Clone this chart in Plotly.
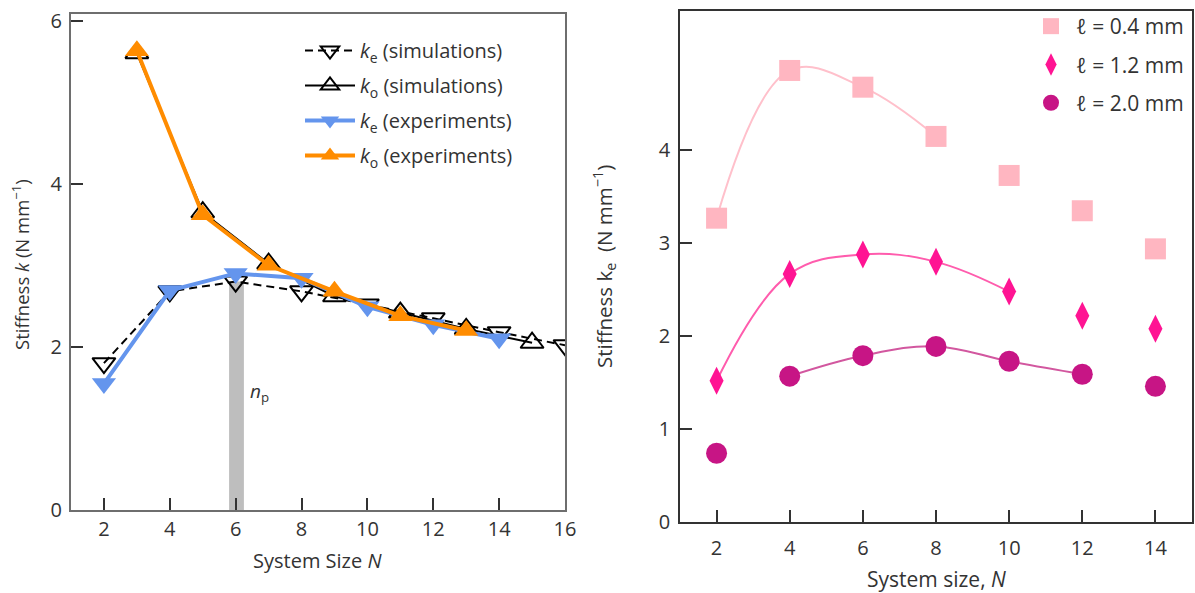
import plotly.graph_objects as go

# ---------------- data: left panel ----------------
N_even = [2, 4, 6, 8, 10, 12, 14, 16]
ke_sim = [1.80, 2.68, 2.80, 2.68, 2.52, 2.35, 2.18, 2.02]
N_odd = [3, 5, 7, 9, 11, 13, 15]
ko_sim = [5.60, 3.65, 3.02, 2.62, 2.42, 2.22, 2.05]
N_exp_e = [2, 4, 6, 8, 10, 12, 14]
ke_exp = [1.55, 2.69, 2.90, 2.84, 2.49, 2.27, 2.10]
N_exp_o = [3, 5, 7, 9, 11, 13]
ko_exp = [5.63, 3.62, 3.00, 2.68, 2.38, 2.20]
n_p = 6
left_xticks = [2, 4, 6, 8, 10, 12, 14, 16]
left_yticks = [0, 2, 4, 6]

# ---------------- data: right panel ----------------
N_r = [2, 4, 6, 8, 10, 12, 14]
k_l04 = [3.27, 4.86, 4.68, 4.15, 3.73, 3.35, 2.94]
k_l12 = [1.52, 2.67, 2.88, 2.80, 2.48, 2.22, 2.08]
k_l20 = [0.74, 1.57, 1.79, 1.89, 1.73, 1.59, 1.46]
fit_l04 = slice(0, 4)   # fitted curve spans N = 2..8
fit_l12 = slice(0, 5)   # N = 2..10
fit_l20 = slice(1, 6)   # N = 4..12
right_xticks = [2, 4, 6, 8, 10, 12, 14]
right_yticks = [0, 1, 2, 3, 4]

FONT = "Open Sans, Noto Sans, DejaVu Sans, sans-serif"
TXT = "#333333"
BLUE = "#6495ED"
ORANGE = "#FF8C00"
C04, C04L = "#FFB6C1", "#FFC0CB"
C12, C12L = "#FF1493", "#FF5CAD"
C20, C20L = "#C71585", "#D2579F"

fig = go.Figure()

# ---- left panel traces ----
fig.add_trace(go.Scatter(
    x=N_even, y=ke_sim, mode="lines+markers", name="<i>k</i><sub>e</sub> (simulations)",
    line=dict(color="black", width=2, dash="8px,5px"),
    marker=dict(symbol="triangle-down-open", size=20, color="black", line=dict(width=2)),
    xaxis="x", yaxis="y", legend="legend", legendgroup="a"))
fig.add_trace(go.Scatter(
    x=N_odd, y=ko_sim, mode="lines+markers", name="<i>k</i><sub>o</sub> (simulations)",
    line=dict(color="black", width=2),
    marker=dict(symbol="triangle-up-open", size=20, color="black", line=dict(width=2)),
    xaxis="x", yaxis="y", legend="legend", legendgroup="b"))
fig.add_trace(go.Scatter(
    x=N_exp_e, y=ke_exp, mode="lines+markers", name="<i>k</i><sub>e</sub> (experiments)",
    line=dict(color=BLUE, width=4),
    marker=dict(symbol="triangle-down", size=21, color=BLUE),
    xaxis="x", yaxis="y", legend="legend", legendgroup="c"))
fig.add_trace(go.Scatter(
    x=N_exp_o, y=ko_exp, mode="lines+markers", name="<i>k</i><sub>o</sub> (experiments)",
    line=dict(color=ORANGE, width=4),
    marker=dict(symbol="triangle-up", size=21, color=ORANGE),
    xaxis="x", yaxis="y", legend="legend", legendgroup="d"))

# ---- right panel traces: fitted curves then markers ----
for ks, sl, cl in [(k_l04, fit_l04, C04L), (k_l12, fit_l12, C12L), (k_l20, fit_l20, C20L)]:
    fig.add_trace(go.Scatter(
        x=N_r[sl], y=ks[sl], mode="lines", line=dict(color=cl, width=2, shape="spline", smoothing=1.1),
        showlegend=False, hoverinfo="skip", xaxis="x2", yaxis="y2"))

fig.add_trace(go.Scatter(
    x=N_r, y=k_l04, mode="markers", name="ℓ = 0.4 mm",
    marker=dict(symbol="square", size=21, color=C04),
    xaxis="x2", yaxis="y2", legend="legend2", legendgroup="e"))
fig.add_trace(go.Scatter(
    x=N_r, y=k_l12, mode="markers", name="ℓ = 1.2 mm",
    marker=dict(symbol="diamond-tall", size=20, color=C12),
    xaxis="x2", yaxis="y2", legend="legend2", legendgroup="f"))
fig.add_trace(go.Scatter(
    x=N_r, y=k_l20, mode="markers", name="ℓ = 2.0 mm",
    marker=dict(symbol="circle", size=21, color=C20),
    xaxis="x2", yaxis="y2", legend="legend2", legendgroup="g"))

W, H = 1195, 593

def px(xp):
    return xp / W

def py(yp):
    return 1 - yp / H

# n_p band
ke_at_np = ke_sim[N_even.index(n_p)]
fig.add_shape(type="rect", xref="x", yref="y", x0=n_p - 0.2, x1=n_p + 0.25, y0=0, y1=ke_at_np,
              fillcolor="#BEBEBE", line=dict(width=0), layer="below")

def ann(text, x, y, size, angle=0, xref="paper", yref="paper", xanchor="center"):
    return dict(text=text, x=x, y=y, xref=xref, yref=yref, xanchor=xanchor, yanchor="middle",
                textangle=angle, showarrow=False, font=dict(size=size, color=TXT, family=FONT))

annotations = [
    ann("<i>n</i><sub>p</sub>", n_p + 0.38, 1.45, 19, xref="x", yref="y", xanchor="left"),
    ann("Stiffness <i>k</i> (N mm<sup>−1</sup>)", px(21), py(265), 18.5, angle=-90),
    ann("System Size <i>N</i>", px(317), py(560), 20),
    ann("Stiffness k<sub>e</sub>  (N mm<sup>−1</sup>)", px(604), py(267), 20.5, angle=-90),
    ann("System size, <i>N</i>", px(936), py(579), 21),
]

axis_common = dict(showgrid=False, zeroline=False, showline=True, mirror=True, ticks="inside",
                   ticklen=12, tickwidth=1.5, tickcolor="#333333", automargin=False,
                   tickfont=dict(size=20, color=TXT, family=FONT))

fig.update_layout(
    width=W, height=H, margin=dict(l=0, r=0, t=0, b=0),
    paper_bgcolor="white", plot_bgcolor="white",
    font=dict(family=FONT, color=TXT),
    xaxis=dict(axis_common, domain=[px(71), px(565)], range=[1, 16], tickvals=left_xticks,
               linecolor="#6e6e6e", linewidth=2, anchor="y", ticklabelstandoff=0),
    yaxis=dict(axis_common, domain=[py(510), py(14)], range=[0, 6.08], tickvals=left_yticks,
               linecolor="#6e6e6e", linewidth=2, anchor="x", ticklabelstandoff=3),
    xaxis2=dict(axis_common, domain=[px(680), px(1192)], range=[1, 15], tickvals=right_xticks,
                linecolor="#333333", linewidth=1.5, anchor="y2", ticklabelstandoff=7),
    yaxis2=dict(axis_common, domain=[py(522), py(11)], range=[0, 5.5], tickvals=right_yticks,
                linecolor="#333333", linewidth=1.5, anchor="x2", ticklabelstandoff=4),
    legend=dict(x=px(300), y=py(31), xanchor="left", yanchor="top", bgcolor="rgba(0,0,0,0)",
                font=dict(size=20, color=TXT, family=FONT), tracegroupgap=6, itemwidth=50,
                traceorder="grouped"),
    legend2=dict(x=px(1026), y=py(6), xanchor="left", yanchor="top", bgcolor="rgba(0,0,0,0)",
                 font=dict(size=21, color=TXT, family=FONT), tracegroupgap=8, itemwidth=40,
                 traceorder="grouped"),
    annotations=annotations,
    showlegend=True,
)

fig.write_html("out.html", config={"displayModeBar": False},
               post_script="document.body.style.margin='0';document.body.style.overflow='hidden';")
